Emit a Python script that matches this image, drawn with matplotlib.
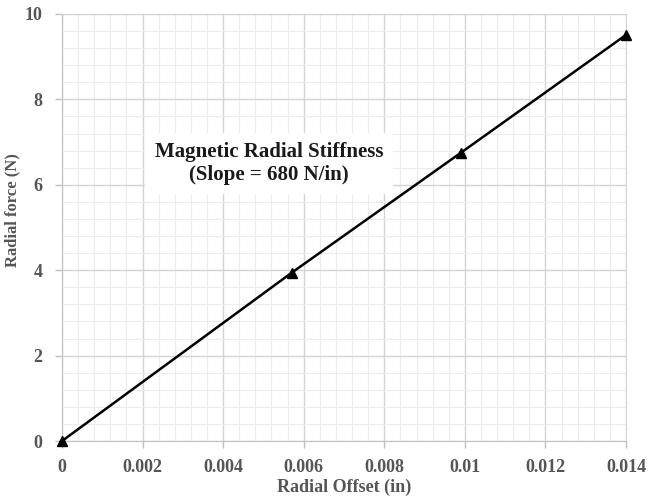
import matplotlib
matplotlib.use("Agg")
import matplotlib.pyplot as plt
from matplotlib.ticker import MultipleLocator

offset_in = [0.0, 0.0057, 0.0099, 0.014]
force_n = [0.0, 3.94, 6.75, 9.51]
x_ticks = [0, 0.002, 0.004, 0.006, 0.008, 0.01, 0.012, 0.014]
x_tick_labels = ["0", "0.002", "0.004", "0.006", "0.008", "0.01", "0.012", "0.014"]
y_ticks = [0, 2, 4, 6, 8, 10]

plt.rcParams["font.family"] = ["Liberation Serif", "DejaVu Serif"]
plt.rcParams["font.weight"] = "bold"
text_col = "#555555"

fig = plt.figure(figsize=(6.5, 4.98), dpi=100)
ax = fig.add_axes([62 / 650, 1 - 441 / 498, 564 / 650, 427 / 498])

ax.set_xlim(0, 0.014)
ax.set_ylim(0, 10)
ax.set_xticks(x_ticks)
ax.set_xticklabels(x_tick_labels)
ax.set_yticks(y_ticks)
ax.xaxis.set_minor_locator(MultipleLocator(0.0004))
ax.yaxis.set_minor_locator(MultipleLocator(0.4))

ax.grid(which="major", color="#d4d4d4", linewidth=1.0)
ax.grid(which="minor", color="#ececec", linewidth=0.8)
ax.set_axisbelow(True)

for side in ["top", "right"]:
    ax.spines[side].set_color("#d4d4d4")
for side in ["left", "bottom"]:
    ax.spines[side].set_color("#bfbfbf")

ax.tick_params(axis="both", which="major", colors="#bfbfbf", labelcolor=text_col,
               labelsize=13, length=5, width=1)
ax.tick_params(axis="x", which="major", pad=8)
ax.tick_params(axis="y", which="major", pad=9)
ax.tick_params(which="minor", length=0)
for lbl in ax.get_xticklabels() + ax.get_yticklabels():
    lbl.set_fontweight("bold")

ax.plot(offset_in, force_n, color="black", linewidth=1.8, marker="^",
        markersize=7, clip_on=False, zorder=5)

ax.set_xlabel("Radial Offset (in)", fontsize=13, fontweight="bold", color=text_col, labelpad=2)
ax.set_ylabel("Radial force (N)", fontsize=12, fontweight="bold", color=text_col)
ax.yaxis.set_label_coords(-0.073, 0.541)

ax.text(0.00514, 6.5, "Magnetic Radial Stiffness\n(Slope = 680 N/in)",
        ha="center", va="center", fontsize=15, fontweight="bold", color="#1a1a1a",
        linespacing=1.15,
        bbox=dict(boxstyle="square,pad=0.45", facecolor="white", edgecolor="none"),
        zorder=4)

fig.savefig("out.png", dpi=100, facecolor="white")
